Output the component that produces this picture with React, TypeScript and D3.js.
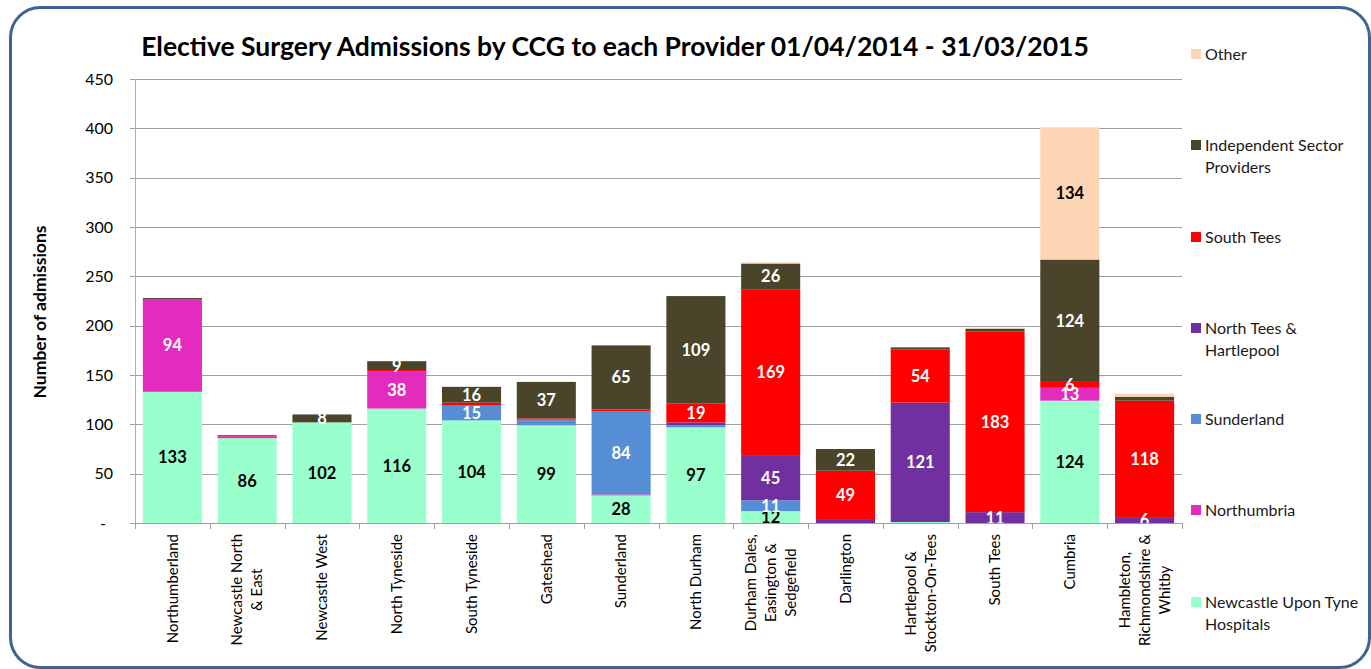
import React, { useRef, useEffect } from "react";
import * as d3 from "d3";

const categories: string[][] = [
  ["Northumberland"],
  ["Newcastle North", "& East"],
  ["Newcastle West"],
  ["North Tyneside"],
  ["South Tyneside"],
  ["Gateshead"],
  ["Sunderland"],
  ["North Durham"],
  ["Durham Dales,", "Easington &", "Sedgefield"],
  ["Darlington"],
  ["Hartlepool &", "Stockton-On-Tees"],
  ["South Tees"],
  ["Cumbria"],
  ["Hambleton,", "Richmondshire &", "Whitby"],
];

// bottom -> top stack order
const seriesNames = [
  "Newcastle Upon Tyne Hospitals",
  "Northumbria",
  "Sunderland",
  "North Tees & Hartlepool",
  "South Tees",
  "Independent Sector Providers",
  "Other",
];
const nuth = [133, 86, 102, 116, 104, 99, 28, 97, 12, 0, 1, 0, 124, 0];
const northumbria = [94, 2, 0, 38, 0, 0, 1, 0, 0, 0, 0, 0, 13, 0];
const sunderland = [0, 0, 0, 0, 15, 5, 84, 2, 11, 0, 0, 0, 0, 0];
const northTees = [0, 0, 0, 0, 0, 1, 0, 3, 45, 4, 121, 11, 0, 6];
const southTees = [0, 1, 0, 1, 3, 1, 2, 19, 169, 49, 54, 183, 6, 118];
const isp = [1, 0, 8, 9, 16, 37, 65, 109, 26, 22, 2, 3, 124, 4];
const other = [0, 0, 0, 0, 0, 0, 0, 0, 1, 0, 0, 1, 134, 3];
const seriesValues = [nuth, northumbria, sunderland, northTees, southTees, isp, other];

const colors = ["#99FFCC", "#E32CBD", "#558ED5", "#7030A0", "#FF0000", "#4A452A", "#FCD5B5"];
const darkLabel = [true, false, false, false, false, false, true];

const yTicks = [0, 50, 100, 150, 200, 250, 300, 350, 400, 450];

const legendLines: string[][] = [
  ["Other"],
  ["Independent Sector", "Providers"],
  ["South Tees"],
  ["North Tees &", "Hartlepool"],
  ["Sunderland"],
  ["Northumbria"],
  ["Newcastle Upon Tyne", "Hospitals"],
];

const W = 1371;
const H = 669;
const left = 135;
const right = 1182;
const top = 79;
const bottom = 523;
const font = "Lato, 'Open Sans', sans-serif";

const App: React.FC = () => {
  const ref = useRef<SVGSVGElement>(null);

  useEffect(() => {
    if (!ref.current) return;
    const svg = d3.select(ref.current);
    svg.selectAll("*").remove();

    const rows = categories.map((c, i) => {
      const r: any = { key: i };
      seriesNames.forEach((s, j) => (r[s] = seriesValues[j][i]));
      return r;
    });

    const x = d3
      .scaleBand<number>()
      .domain(d3.range(categories.length))
      .range([left, right])
      .paddingInner(0.21)
      .paddingOuter(0.105);
    const y = d3.scaleLinear().domain([0, 450]).range([bottom, top]);

    // frame
    svg
      .append("rect")
      .attr("x", 10.5)
      .attr("y", 7.5)
      .attr("width", 1359)
      .attr("height", 660)
      .attr("rx", 30)
      .attr("fill", "white")
      .attr("stroke", "#3E6495")
      .attr("stroke-width", 3);

    // title
    svg
      .append("text")
      .attr("x", 615)
      .attr("y", 56)
      .attr("text-anchor", "middle")
      .attr("font-family", font)
      .attr("font-weight", "bold")
      .attr("font-size", 26.5)
      .attr("fill", "#000")
      .text("Elective Surgery Admissions by CCG to each Provider 01/04/2014 - 31/03/2015");

    // gridlines
    svg
      .append("g")
      .selectAll("line")
      .data(yTicks.filter((t) => t > 0))
      .enter()
      .append("line")
      .attr("x1", left - 5)
      .attr("x2", right)
      .attr("y1", (d) => Math.round(y(d)) + 0.5)
      .attr("y2", (d) => Math.round(y(d)) + 0.5)
      .attr("stroke", "#A0A0A0")
      .attr("stroke-width", 1);

    // y tick labels
    svg
      .append("g")
      .selectAll("text")
      .data(yTicks)
      .enter()
      .append("text")
      .attr("x", (d) => (d === 0 ? 106 : 113))
      .attr("y", (d) => y(d))
      .attr("dy", "0.35em")
      .attr("text-anchor", "end")
      .attr("font-family", font)
      .attr("font-size", 16)
      .attr("fill", "#000")
      .text((d) => (d === 0 ? "-" : String(d)));

    // y axis title
    svg
      .append("text")
      .attr("transform", `translate(46,312) rotate(-90)`)
      .attr("text-anchor", "middle")
      .attr("font-family", font)
      .attr("font-weight", "bold")
      .attr("font-size", 17.5)
      .attr("fill", "#000")
      .text("Number of admissions");

    // bars
    const stack = d3.stack<any>().keys(seriesNames);
    const layers = stack(rows);
    layers.forEach((layer, j) => {
      const g = svg.append("g");
      g.selectAll("rect")
        .data(layer.filter((d) => d[1] - d[0] > 0))
        .enter()
        .append("rect")
        .attr("x", (d: any) => x(d.data.key) as number)
        .attr("width", x.bandwidth())
        .attr("y", (d) => y(d[1]))
        .attr("height", (d) => y(d[0]) - y(d[1]))
        .attr("fill", colors[j]);
    });

    // data labels
    layers.forEach((layer, j) => {
      svg
        .append("g")
        .selectAll("text")
        .data(layer.filter((d) => d[1] - d[0] >= 6))
        .enter()
        .append("text")
        .attr("x", (d: any) => (x(d.data.key) as number) + x.bandwidth() / 2)
        .attr("y", (d) => y((d[0] + d[1]) / 2))
        .attr("dy", "0.36em")
        .attr("text-anchor", "middle")
        .attr("font-family", font)
        .attr("font-weight", "bold")
        .attr("font-size", 16.5)
        .attr("fill", darkLabel[j] ? "#000" : "#fff")
        .text((d) => String(d[1] - d[0]));
    });

    // axes lines
    svg
      .append("line")
      .attr("x1", left + 0.5)
      .attr("x2", left + 0.5)
      .attr("y1", top)
      .attr("y2", bottom)
      .attr("stroke", "#B0B0B0");
    svg
      .append("line")
      .attr("x1", left - 5)
      .attr("x2", right)
      .attr("y1", bottom + 0.5)
      .attr("y2", bottom + 0.5)
      .attr("stroke", "#A0A0A0");
    const step = x.step();
    svg
      .append("g")
      .selectAll("line")
      .data(d3.range(categories.length + 1))
      .enter()
      .append("line")
      .attr("x1", (d) => Math.round(left + d * step) + 0.5)
      .attr("x2", (d) => Math.round(left + d * step) + 0.5)
      .attr("y1", bottom)
      .attr("y2", bottom + 6)
      .attr("stroke", "#A0A0A0");

    // category labels
    categories.forEach((lines, i) => {
      const cx = (x(i) as number) + x.bandwidth() / 2;
      const g = svg.append("g");
      const texts = lines.map((ln) =>
        g
          .append("text")
          .attr("font-family", font)
          .attr("font-size", 15)
          .attr("fill", "#000")
          .attr("text-anchor", "middle")
          .attr("dy", "0.35em")
          .text(ln)
      );
      const maxLen = d3.max(texts, (t) => (t.node() as SVGTextElement).getComputedTextLength()) || 0;
      const cy = 534 + maxLen / 2;
      texts.forEach((t, k) => {
        const off = (k - (lines.length - 1) / 2) * 20;
        t.attr("transform", `translate(${cx + off},${cy}) rotate(-90)`);
      });
    });

    // legend
    const legendY = [54, 145, 237, 328, 419, 510, 602];
    legendLines.forEach((lines, i) => {
      const j = seriesNames.length - 1 - i;
      const g = svg.append("g").attr("transform", `translate(1191,${legendY[i]})`);
      g.append("rect")
        .attr("x", 0)
        .attr("y", -5)
        .attr("width", 10)
        .attr("height", 10)
        .attr("fill", colors[j]);
      lines.forEach((ln, k) => {
        g.append("text")
          .attr("x", 14)
          .attr("y", k * 22)
          .attr("dy", "0.35em")
          .attr("font-family", font)
          .attr("font-size", 16)
          .attr("fill", "#1a1a1a")
          .text(ln);
      });
    });
  }, []);

  return (
    <svg
      ref={ref}
      width={W}
      height={H}
      style={{ position: "absolute", left: 0, top: 0, background: "#fff" }}
    />
  );
};

export default App;
